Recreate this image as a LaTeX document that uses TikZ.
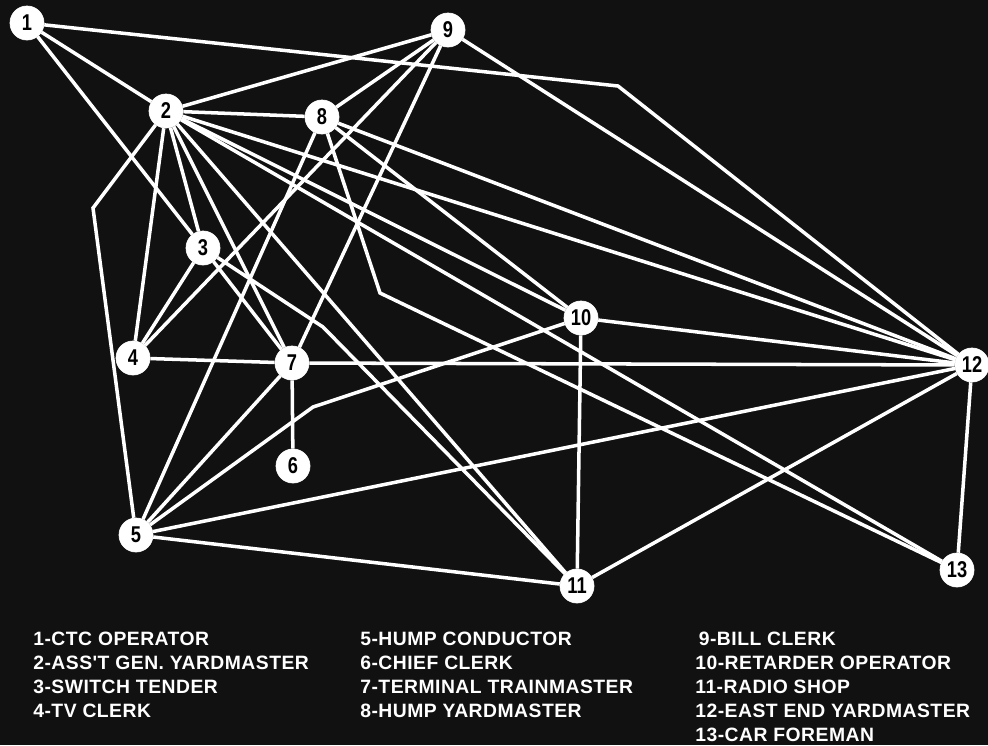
\documentclass[tikz,border=0pt]{standalone}
\usepackage{fontspec}
\setmainfont{Liberation Sans}
\newfontfamily\numfont{Liberation Sans}[FakeStretch=0.8]
\newfontfamily\keyfont{Liberation Sans}[LetterSpace=2.5]
\usepackage{xcolor}
\usepackage{tikz}
\usetikzlibrary{positioning}
\definecolor{board}{RGB}{17,17,17}

\begin{document}
\begin{tikzpicture}[
  x=0.02cm, y=-0.02cm,
  person/.style={circle, fill=white, draw=white, minimum size=0.68cm, inner sep=0pt, text=black, font=\numfont\bfseries\fontsize{13}{13}\selectfont},
  link/.style={draw=white, line width=2pt},
  entry/.style={text=white, inner sep=0pt, text height=8pt, text depth=0pt, anchor=north west, font=\keyfont\bfseries\fontsize{11}{11}\selectfont}
]
\fill[board] (0,0) rectangle (988,745);
\useasboundingbox (0,0) rectangle (988,745);

% people
\node[person] (p1) at (27,23) {1};
\node[person] (p2) at (166,111) {2};
\node[person] (p3) at (203,248) {3};
\node[person] (p4) at (133,358) {4};
\node[person] (p5) at (136,535) {5};
\node[person] (p6) at (293,466) {6};
\node[person] (p7) at (292,363) {7};
\node[person] (p8) at (322,117) {8};
\node[person] (p9) at (448,30) {9};
\node[person] (p10) at (581,318) {10};
\node[person] (p11) at (577,586) {11};
\node[person] (p12) at (972,365) {12};
\node[person] (p13) at (957,570) {13};

% bends
\coordinate (k1) at (618,86);
\coordinate (k2) at (93,208);
\coordinate (k3) at (323,327);
\coordinate (k5) at (313,407);
\coordinate (k8) at (380,293);

% contacts
\draw[link] (p1) -- (p2);
\draw[link] (p1) -- (p3);
\draw[link] (p1) -- (k1) -- (p12);
\draw[link] (p2) -- (p9);
\draw[link] (p2) -- (p8);
\draw[link] (p2) -- (p3);
\draw[link] (p2) -- (p4);
\draw[link] (p2) -- (k2) -- (p5);
\draw[link] (p2) -- (p7);
\draw[link] (p2) -- (p11);
\draw[link] (p2) -- (p10);
\draw[link] (p2) -- (p12);
\draw[link] (p2) -- (p13);
\draw[link] (p3) -- (p4);
\draw[link] (p3) -- (p7);
\draw[link] (p3) -- (k3) -- (p11);
\draw[link] (p4) -- (p7);
\draw[link] (p4) -- (p9);
\draw[link] (p5) -- (p8);
\draw[link] (p5) -- (p7);
\draw[link] (p5) -- (k5) -- (p10);
\draw[link] (p5) -- (p12);
\draw[link] (p5) -- (p11);
\draw[link] (p6) -- (p7);
\draw[link] (p7) -- (p9);
\draw[link] (p7) -- (p12);
\draw[link] (p8) -- (p9);
\draw[link] (p8) -- (p10);
\draw[link] (p8) -- (p12);
\draw[link] (p8) -- (k8) -- (p13);
\draw[link] (p9) -- (p12);
\draw[link] (p10) -- (p11);
\draw[link] (p10) -- (p12);
\draw[link] (p11) -- (p12);
\draw[link] (p12) -- (p13);

% key
\node[entry] (l1) at (33,631) {1-CTC OPERATOR};
\node[entry, below=5.3pt of l1.south west, anchor=north west] (l2) {2-ASS'T GEN. YARDMASTER};
\node[entry, below=5.3pt of l2.south west, anchor=north west] (l3) {3-SWITCH TENDER};
\node[entry, below=5.3pt of l3.south west, anchor=north west] (l4) {4-TV CLERK};
\node[entry] (l5) at (360,631) {5-HUMP CONDUCTOR};
\node[entry, below=5.3pt of l5.south west, anchor=north west] (l6) {6-CHIEF CLERK};
\node[entry, below=5.3pt of l6.south west, anchor=north west] (l7) {7-TERMINAL TRAINMASTER};
\node[entry, below=5.3pt of l7.south west, anchor=north west] (l8) {8-HUMP YARDMASTER};
\node[entry] (l9) at (695,631) {\kern2pt 9-BILL CLERK};
\node[entry, below=5.3pt of l9.south west, anchor=north west] (l10) {10-RETARDER OPERATOR};
\node[entry, below=5.3pt of l10.south west, anchor=north west] (l11) {11-RADIO SHOP};
\node[entry, below=5.3pt of l11.south west, anchor=north west] (l12) {12-EAST END YARDMASTER};
\node[entry, below=5.3pt of l12.south west, anchor=north west] (l13) {13-CAR FOREMAN};
\end{tikzpicture}
\end{document}
